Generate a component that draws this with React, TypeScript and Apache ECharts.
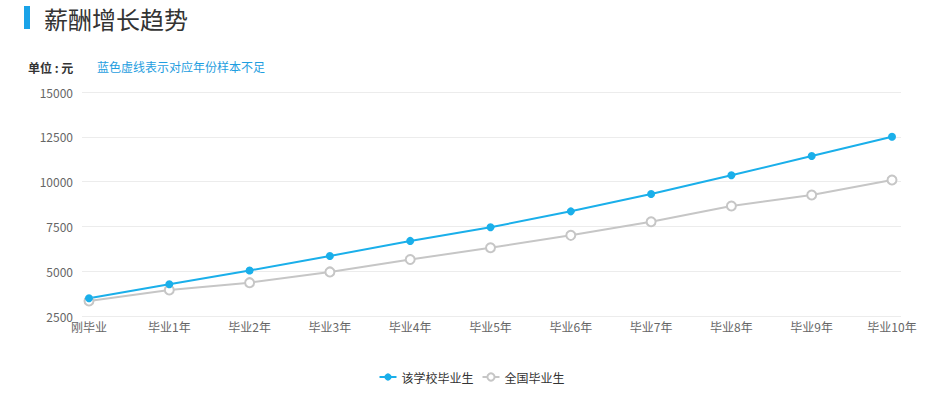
import React, { useEffect, useRef } from "react";
import * as echarts from "echarts";

const categories = ["刚毕业", "毕业1年", "毕业2年", "毕业3年", "毕业4年", "毕业5年", "毕业6年", "毕业7年", "毕业8年", "毕业9年", "毕业10年"];
const schoolValues = [3490, 4270, 5040, 5850, 6690, 7450, 8340, 9310, 10350, 11430, 12500];
const nationalValues = [3340, 3950, 4360, 4960, 5650, 6310, 7000, 7760, 8640, 9250, 10090];
const seriesNames = ["该学校毕业生", "全国毕业生"];
const yMin = 2500;
const yMax = 15000;
const yInterval = 2500;

const FONT = "'Microsoft YaHei', 'Noto Sans CJK SC', sans-serif";

export default function App() {
  const ref = useRef<HTMLDivElement>(null);
  useEffect(() => {
    if (!ref.current) return;
    const chart = echarts.init(ref.current, undefined, { renderer: "svg" });
    chart.setOption({
      animation: false,
      textStyle: { fontFamily: FONT },
      graphic: [
        { type: "rect", shape: { x: 24, y: 6, width: 6, height: 23 }, style: { fill: "#1aa3e8" } },
        {
          type: "text",
          x: 44,
          y: 18,
          style: { text: "薪酬增长趋势", font: `24px ${FONT}`, fill: "#333", verticalAlign: "middle" },
        },
        {
          type: "text",
          x: 28,
          y: 67,
          style: { text: "单位 : 元", font: `bold 12px ${FONT}`, fill: "#333", verticalAlign: "middle" },
        },
        {
          type: "text",
          x: 97,
          y: 66,
          style: { text: "蓝色虚线表示对应年份样本不足", font: `12px ${FONT}`, fill: "#1f9ee0", verticalAlign: "middle" },
        },
      ],
      legend: {
        bottom: 9,
        left: "center",
        itemWidth: 17,
        itemHeight: 9,
        itemGap: 8,
        textStyle: { color: "#333", fontSize: 12, fontFamily: FONT },
        data: seriesNames,
      },
      grid: [
        { left: 82, right: 42, top: 92, bottom: 81 },
        { left: 89, right: 51, top: 92, bottom: 81 },
      ],
      xAxis: [
        { type: "category", gridIndex: 0, data: categories, show: false, boundaryGap: false },
        {
          type: "category",
          gridIndex: 1,
          data: categories,
          boundaryGap: false,
          axisLine: { show: false },
          axisTick: { show: false },
          axisLabel: { color: "#666", fontSize: 12, margin: 4, fontFamily: FONT, interval: 0 },
        },
      ],
      yAxis: [
        {
          type: "value",
          gridIndex: 0,
          min: yMin,
          max: yMax,
          interval: yInterval,
          axisLine: { show: false },
          axisTick: { show: false },
          axisLabel: { color: "#666", fontSize: 12, margin: 9, fontFamily: FONT, formatter: (v: number) => String(v) },
          splitLine: { lineStyle: { color: "#ececec", width: 1 } },
        },
        {
          type: "value",
          gridIndex: 1,
          min: yMin,
          max: yMax,
          interval: yInterval,
          show: false,
          splitLine: { show: false },
        },
      ],
      series: [
        {
          name: seriesNames[1],
          type: "line",
          xAxisIndex: 1,
          yAxisIndex: 1,
          data: nationalValues,
          symbol: "emptyCircle",
          symbolSize: 9,
          lineStyle: { color: "#c6c6c6", width: 2 },
          itemStyle: { color: "#c6c6c6", borderColor: "#c6c6c6", borderWidth: 1.5 },
        },
        {
          name: seriesNames[0],
          type: "line",
          xAxisIndex: 1,
          yAxisIndex: 1,
          data: schoolValues,
          symbol: "circle",
          symbolSize: 8,
          lineStyle: { color: "#1aafea", width: 2 },
          itemStyle: { color: "#1aafea" },
        },
      ],
    });
    return () => chart.dispose();
  }, []);
  return <div ref={ref} style={{ position: "fixed", left: 0, top: 0, width: 943, height: 397, background: "#fff" }} />;
}
